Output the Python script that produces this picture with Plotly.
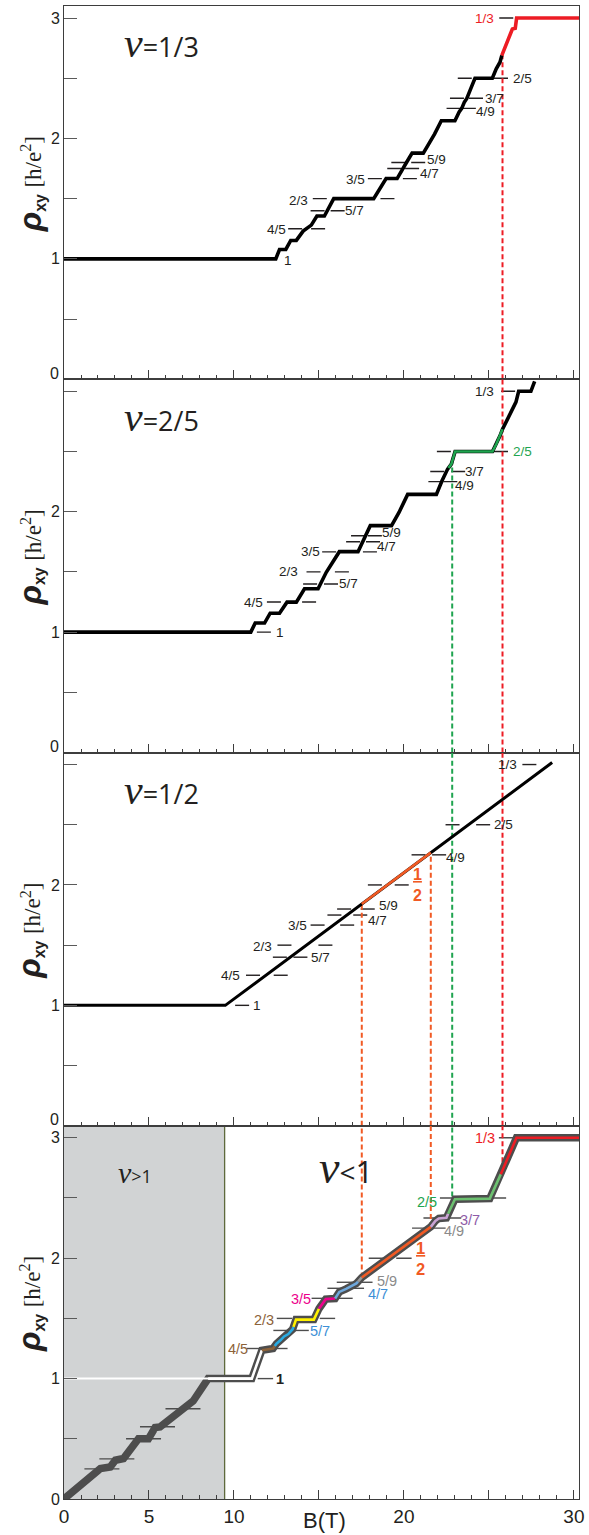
import numpy as np
import plotly.graph_objects as go
from fractions import Fraction

# ------------------------------------------------------------------ data
B_RANGE = [0, 30.3]
RHO_RANGE = [0, 3.1]

# panel 1 : nu = 1/3 composite-fermion model
p1_B = [0.0, 12.46, 12.68, 13.05, 13.34, 13.67, 14.07, 14.55, 14.88, 15.32, 15.87, 18.22,
        18.95, 19.60, 20.15, 20.48, 21.14, 21.80, 22.20, 23.00, 23.25, 23.40, 23.55, 23.70,
        23.95, 24.18, 25.20, 25.43, 25.65, 25.76, 26.24, 26.38, 26.55, 26.63, 30.3]
p1_rho = [1.0, 1.0, 1.078, 1.078, 1.153, 1.153, 1.23, 1.28, 1.356, 1.356, 1.5, 1.5,
          1.667, 1.667, 1.8, 1.878, 1.878, 2.036, 2.147, 2.147, 2.22, 2.25, 2.30, 2.333,
          2.42, 2.5, 2.5, 2.578, 2.633, 2.69, 2.853, 2.909, 2.915, 3.0, 3.0]
p1_highlight = [25.76, 30.3]          # part drawn as the 1/3 state

# panel 2 : nu = 2/5
p2_B = [0.0, 10.99, 11.25, 11.80, 12.13, 12.68, 13.12, 13.67, 14.15, 14.95, 15.43, 16.20,
        17.30, 18.02, 19.27, 19.71, 20.22, 21.91, 22.24, 22.57, 22.79, 23.01, 25.21, 25.43,
        25.65, 25.80, 26.09, 26.30, 26.59, 26.75, 27.47, 27.69]
p2_rho = [1.0, 1.0, 1.075, 1.075, 1.157, 1.157, 1.249, 1.249, 1.36, 1.36, 1.497, 1.668,
          1.668, 1.884, 1.884, 1.994, 2.144, 2.144, 2.257, 2.354, 2.395, 2.5, 2.5, 2.56,
          2.63, 2.685, 2.768, 2.83, 2.91, 3.0, 3.0, 3.083]
p2_highlight = [22.62, 25.80]         # part drawn as the 2/5 state

# panel 3 : nu = 1/2 (classical Hall line)
p3_B = [0.0, 9.49, 28.72]
p3_rho = [1.0, 1.0, 3.017]
p3_highlight = [17.52, 21.58]         # part drawn as the 1/2 state

# panel 4 : measured-like composite trace
p4_B = [0.0, 2.14, 2.72, 3.02, 3.50, 4.38, 4.97, 5.36, 5.65, 7.31, 7.60, 8.48, 11.05,
        11.64, 12.30, 12.50, 12.75, 12.95, 13.20, 13.45, 13.65, 14.70, 15.00, 15.40, 15.95,
        16.20, 16.60, 16.90, 17.20, 17.52, 21.58, 21.85, 22.05, 22.50, 22.75, 23.00, 25.05,
        25.30, 25.80, 26.62, 30.3]
p4_rho = [0.0, 0.253, 0.266, 0.322, 0.336, 0.50, 0.50, 0.593, 0.598, 0.797, 0.814, 1.0, 1.0,
          1.235, 1.25, 1.29, 1.32, 1.35, 1.37, 1.41, 1.49, 1.49, 1.58, 1.66, 1.665,
          1.72, 1.745, 1.77, 1.79, 1.84, 2.26, 2.31, 2.33, 2.335, 2.42, 2.49, 2.495,
          2.57, 2.73, 3.0, 3.0]
p4_seg_start = [8.48, 11.64, 12.40, 13.50, 15.00, 15.95, 17.30, 17.52, 21.58, 22.60, 25.70]
p4_seg_end = [11.64, 12.40, 13.50, 15.00, 15.95, 17.30, 17.52, 21.58, 22.60, 25.70, 30.3]
p4_seg_state = ["1", "4/5", "5/7", "2/3", "3/5", "4/7", "5/9", "1/2", "3/7", "2/5", "1/3"]
nu1_ref_B = [0.0, 11.05]              # white nu = 1 reference line
nu_boundary_B = 9.45                  # nu > 1 / nu < 1 boundary

# filling-factor markers (dashes): (state, B)
dash1 = [("4/5", 13.6), ("4/5", 14.95), ("2/3", 15.05), ("2/3", 19.03), ("5/7", 14.92),
         ("5/7", 16.1), ("3/5", 18.29), ("3/5", 20.35), ("4/7", 19.43), ("4/7", 20.48),
         ("5/9", 19.67), ("5/9", 20.84), ("4/9", 22.92), ("4/9", 23.82), ("3/7", 23.12),
         ("3/7", 24.24), ("2/5", 23.58), ("2/5", 25.71), ("1/3", 26.02)]
dash2 = [("1", 11.76), ("4/5", 12.35), ("4/5", 14.42), ("2/3", 14.68), ("2/3", 16.35),
         ("5/7", 14.48), ("5/7", 15.71), ("3/5", 15.6), ("3/5", 18.0), ("5/9", 17.3),
         ("5/9", 18.29), ("4/7", 17.01), ("4/7", 18.18), ("3/7", 21.96), ("3/7", 23.19),
         ("4/9", 21.85), ("4/9", 22.73), ("2/5", 22.35), ("2/5", 25.71), ("1/3", 26.13)]
dash3 = [("1", 10.48), ("4/5", 11.12), ("4/5", 12.75), ("2/3", 12.97), ("2/3", 15.38),
         ("5/7", 12.7), ("5/7", 13.91), ("3/5", 14.92), ("3/5", 16.66), ("4/7", 15.91),
         ("4/7", 17.43), ("5/9", 16.48), ("5/9", 17.87), ("1/2", 18.29), ("1/2", 19.87),
         ("4/9", 20.86), ("4/9", 22.07), ("2/5", 22.86), ("2/5", 24.66), ("1/3", 27.38)]
dash4 = [("1", 11.85), ("4/5", 11.2), ("4/5", 12.7), ("5/7", 12.77), ("5/7", 13.95),
         ("2/3", 12.97), ("2/3", 15.5), ("3/5", 15.02), ("3/5", 16.53), ("4/7", 15.95),
         ("4/7", 17.2), ("5/9", 16.5), ("5/9", 17.7), ("1/2", 18.38), ("1/2", 20.0),
         ("4/9", 20.93), ("4/9", 22.0), ("3/7", 21.6), ("3/7", 22.92), ("2/5", 22.57),
         ("2/5", 25.56), ("1/3", 26.04)]
dash4_low = [("4", 2.23), ("3", 3.11), ("2", 4.68), ("5/3", 5.5), ("4/3", 7.0)]

# fraction labels: (state, B, rho, side)
lab1 = [("1", 12.84, 0.985, "left"), ("4/5", 13.19, 1.245, "right"), ("2/3", 14.5, 1.485, "right"),
        ("5/7", 16.42, 1.4, "left"), ("3/5", 17.8, 1.66, "right"), ("5/9", 21.25, 1.825, "left"),
        ("4/7", 20.8, 1.71, "left"), ("4/9", 24.1, 2.22, "left"), ("3/7", 24.66, 2.333, "left"),
        ("2/5", 26.3, 2.495, "left"), ("1/3", 25.43, 3.0, "right")]
lab2 = [("1", 12.35, 1.0, "left"), ("4/5", 11.8, 1.25, "right"), ("2/3", 13.89, 1.5, "right"),
        ("5/7", 16.09, 1.4, "left"), ("3/5", 15.16, 1.667, "right"), ("5/9", 18.6, 1.825, "left"),
        ("4/7", 18.29, 1.71, "left"), ("3/7", 23.45, 2.333, "left"), ("4/9", 22.9, 2.22, "left"),
        ("2/5", 26.3, 2.5, "left"), ("1/3", 25.43, 3.0, "right")]
lab3 = [("1", 11.03, 1.0, "left"), ("4/5", 10.48, 1.245, "right"), ("2/3", 12.35, 1.485, "right"),
        ("5/7", 14.44, 1.4, "left"), ("3/5", 14.44, 1.667, "right"), ("4/7", 17.74, 1.705, "left"),
        ("5/9", 18.4, 1.83, "left"), ("4/9", 22.35, 2.225, "left"), ("2/5", 25.21, 2.5, "left"),
        ("1/3", 26.75, 3.0, "right"), ("1/2", 20.81, 2.0, "center")]
lab4 = [("1", 12.38, 1.0, "left"), ("4/5", 10.92, 1.249, "right"), ("2/3", 12.48, 1.49, "right"),
        ("5/7", 14.33, 1.395, "left"), ("3/5", 14.63, 1.66, "right"), ("4/7", 17.74, 1.70, "left"),
        ("5/9", 18.3, 1.81, "left"), ("1/2", 20.97, 2.0, "center"), ("4/9", 22.24, 2.222, "left"),
        ("3/7", 23.21, 2.32, "left"), ("2/5", 22.04, 2.47, "right"), ("1/3", 25.46, 3.0, "right")]

# vertical guide lines: B of the highlighted states
guide_B = {"1/3": 25.8, "2/5": 22.84, "1/2a": 17.52, "1/2b": 21.58}

panel_titles = ["1/3", "2/5", "1/2", None]
x_ticks = [0, 5, 10, 15, 20, 25, 30]
x_ticktext = ["0", "5", "10", "", "20", "", "30"]
y_labeled = [0, 1, 2, 3]
y_half = [0.5, 1.5, 2.5]

# ------------------------------------------------------------------ style
INK = "#231F20"
AX = "#3d3d3d"
C = {"1/3": "#ED1C24", "2/5": "#1FA44F", "1/2": "#F15A24", "3/7": "#8E5BA8",
     "4/9": "#8A8A8A", "5/9": "#8A8A8A", "4/7": "#3D8FD6", "3/5": "#EC008C",
     "5/7": "#3D8FD6", "2/3": "#8C6239", "4/5": "#8C6239", "1": INK}
INNER = {"1": "#FFFFFF", "4/5": "#8C6239", "5/7": "#29ABE2", "2/3": "#FFF200",
         "3/5": "#EC008C", "4/7": "#6FA8DC", "5/9": "#9A9A9A", "1/2": "#F15A24",
         "3/7": "#C9A3D4", "2/5": "#6CC070", "1/3": "#ED1C24"}
FONT = "Liberation Sans, Arial, sans-serif"


def rho_of(state):
    return float(1 / Fraction(state))


def segment(B, rho, b0, b1):
    B = np.asarray(B, float)
    rho = np.asarray(rho, float)
    inside = (B > b0) & (B < b1)
    xs = np.concatenate([[b0], B[inside], [b1]])
    ys = np.interp(xs, B, rho)
    return xs, ys


def ax(k):
    return ("x" if k == 1 else f"x{k}", "y" if k == 1 else f"y{k}")


fig = go.Figure()


def line(k, x, y, color, width, dash=None):
    xa, ya = ax(k)
    fig.add_trace(go.Scatter(x=list(x), y=list(y), mode="lines", xaxis=xa, yaxis=ya,
                             line=dict(color=color, width=width, dash=dash),
                             hoverinfo="skip", showlegend=False))


def dashes(k, items, color=INK, size=10):
    xa, ya = ax(k)
    fig.add_trace(go.Scatter(x=[b for _, b in items], y=[rho_of(s) for s, _ in items],
                             mode="markers", xaxis=xa, yaxis=ya,
                             marker=dict(symbol="line-ew", size=size,
                                         line=dict(color=color, width=1.4)),
                             hoverinfo="skip", showlegend=False))


def guide(k, b, color, y0, y1):
    line(k, [b, b], [y0, y1], color, 2, dash="5px,3px")


annotations = []


def labels(k, items, colored, size):
    xa, ya = ax(k)
    for s, b, r, side in items:
        col = C[s] if (s in colored) else INK
        if s == "1/2":
            txt = "<b><u>1</u></b><br><b>2</b>"
            annotations.append(dict(x=b, y=r, xref=xa, yref=ya, text=txt, showarrow=False,
                                    xanchor="center", yanchor="middle",
                                    font=dict(family=FONT, size=max(size, 14) + 2, color=C["1/2"])))
            continue
        txt = f"<b>{s}</b>" if (k == 4 and s == "1") else s
        annotations.append(dict(x=b, y=r, xref=xa, yref=ya, text=txt, showarrow=False,
                                xanchor=side, yanchor="middle",
                                font=dict(family=FONT, size=size, color=col)))


# ---------------- panel 1
dashes(1, dash1)
guide(1, guide_B["1/3"], C["1/3"], 0, float(np.interp(guide_B["1/3"], p1_B, p1_rho)))
line(1, *segment(p1_B, p1_rho, 0, p1_highlight[0]), "#000000", 3.6)
line(1, *segment(p1_B, p1_rho, *p1_highlight), C["1/3"], 3.6)
labels(1, lab1, {"1/3"}, 13.5)

# ---------------- panel 2
dashes(2, dash2)
guide(2, guide_B["1/3"], C["1/3"], RHO_RANGE[0], RHO_RANGE[1])
guide(2, guide_B["2/5"], C["2/5"], 0, float(np.interp(guide_B["2/5"], p2_B, p2_rho)))
line(2, p2_B, p2_rho, "#000000", 3.6)
line(2, *segment(p2_B, p2_rho, *p2_highlight), C["2/5"], 2.6)
labels(2, lab2, {"2/5"}, 13.5)

# ---------------- panel 3
dashes(3, dash3)
for key, col in (("1/3", C["1/3"]), ("2/5", C["2/5"])):
    guide(3, guide_B[key], col, RHO_RANGE[0], RHO_RANGE[1])
for key in ("1/2a", "1/2b"):
    guide(3, guide_B[key], C["1/2"], 0, float(np.interp(guide_B[key], p3_B, p3_rho)))
line(3, p3_B, p3_rho, "#000000", 3)
line(3, *segment(p3_B, p3_rho, *p3_highlight), C["1/2"], 2.6)
labels(3, lab3, {"1/2"}, 13.5)

# ---------------- panel 4
dashes(4, dash4, color="#4d4d4d", size=11)
dashes(4, dash4_low, color="#4d4d4d", size=25)
for key, col in (("1/3", C["1/3"]), ("2/5", C["2/5"]), ("1/2a", C["1/2"]), ("1/2b", C["1/2"])):
    guide(4, guide_B[key], col, float(np.interp(guide_B[key], p4_B, p4_rho)), RHO_RANGE[1])
line(4, p4_B, p4_rho, "#4D4D4D", 7.5)
line(4, nu1_ref_B, [1.0, 1.0], "#FFFFFF", 2)
for b0, b1, s in zip(p4_seg_start, p4_seg_end, p4_seg_state):
    line(4, *segment(p4_B, p4_rho, b0, b1), INNER[s], 2.6)
labels(4, lab4, set(C.keys()), 14.5)

# nu labels
nu_span = '<span style="font-family:Liberation Serif;font-size:42px"><i>ν</i></span>'
for k, t in enumerate(panel_titles, start=1):
    if t is None:
        continue
    xa, ya = ax(k)
    annotations.append(dict(x=3.4, y=2.79, xref=xa, yref=ya, text=f"{nu_span}={t}",
                            showarrow=False, xanchor="left", yanchor="middle",
                            font=dict(family="Open Sans, sans-serif", size=27, color=INK)))
annotations.append(dict(x=3.05, y=2.71, xref="x4", yref="y4",
                        text='<span style="font-family:Liberation Serif;font-size:30px"><i>ν</i></span>>1',
                        showarrow=False, xanchor="left", yanchor="middle",
                        font=dict(family="Open Sans, sans-serif", size=18, color=INK)))
annotations.append(dict(x=14.9, y=2.75, xref="x4", yref="y4",
                        text='<span style="font-family:Liberation Serif;font-size:46px"><i>ν</i></span><span style="font-size:28px"><</span>1',
                        showarrow=False, xanchor="left", yanchor="middle",
                        font=dict(family="Open Sans, sans-serif", size=31, color=INK)))

# y titles
ytitle = ('<span style="font-size:32px"><b><i>ρ</i></b></span><sub><b>xy</b></sub> '
          '<span style="font-family:Liberation Serif">[h/e<sup>2</sup>]</span>')
for k in range(1, 5):
    annotations.append(dict(x=-0.066, y=1.62, xref="paper", yref=ax(k)[1], text=ytitle,
                            textangle=-90, showarrow=False, xanchor="center", yanchor="middle",
                            font=dict(family=FONT, size=23, color=INK)))
    if k < 4:
        # the "0" of the upper panels sits a little above its tick
        annotations.append(dict(x=0, y=0, xref="paper", yref=ax(k)[1], text="0",
                                xshift=-3, yshift=6, showarrow=False, xanchor="right",
                                yanchor="middle", font=dict(family=FONT, size=16, color=INK)))
# x title
annotations.append(dict(x=15.3, y=-0.0145, xref="x4", yref="paper", text="B(T)",
                        showarrow=False, xanchor="center", yanchor="middle",
                        font=dict(family=FONT, size=22, color=INK)))

# ------------------------------------------------------------------ layout
layout = dict(width=589, height=1535, margin=dict(l=64, r=8, t=5, b=36),
              paper_bgcolor="white", plot_bgcolor="white", showlegend=False,
              annotations=annotations)
minor_x = [v for v in range(0, 31) if v % 5]
for k in range(1, 5):
    sfx = "" if k == 1 else str(k)
    xa, ya = ax(k)
    layout["xaxis" + sfx] = dict(
        domain=[0, 1], range=B_RANGE, anchor=ya, showline=True, mirror=True,
        linecolor=AX, linewidth=1, showgrid=False, zeroline=False,
        ticks="inside", tickmode="array", tickvals=x_ticks, ticktext=x_ticktext,
        ticklen=9, tickwidth=1.2, tickcolor=AX, showticklabels=(k == 4),
        tickfont=dict(family=FONT, size=19, color=INK),
        minor=dict(ticks="inside", tickmode="array", tickvals=minor_x, ticklen=4,
                   tickwidth=1, tickcolor=AX, showgrid=False))
    # labelled ticks on the y axis; unlabelled ones are drawn as equal-length minor ticks
    if k == 4:
        major = y_labeled
    elif k == 1:
        major = [v for v in y_labeled if v != 0]
    else:
        major = [v for v in y_labeled if v not in (0, 3)]
    unlabelled = sorted(y_half + [v for v in y_labeled if v not in major])
    layout["yaxis" + sfx] = dict(
        domain=[1 - k / 4, 1 - (k - 1) / 4], range=RHO_RANGE, anchor=xa, showline=True,
        mirror=True, linecolor=AX, linewidth=1, showgrid=False, zeroline=False,
        ticks="inside", tickmode="array", tickvals=major, ticktext=[str(v) for v in major],
        ticklen=13, tickwidth=1.2, tickcolor="#5a5a5a",
        tickfont=dict(family=FONT, size=16, color=INK),
        minor=dict(ticks="inside", tickmode="array", tickvals=unlabelled, ticklen=13,
                   tickwidth=1.2, tickcolor="#5a5a5a", showgrid=False))

layout["shapes"] = [
    dict(type="rect", xref="x4", yref="y4 domain", x0=0, x1=nu_boundary_B, y0=0, y1=1,
         fillcolor="#D1D3D4", line=dict(width=0), layer="below"),
    dict(type="line", xref="x4", yref="y4 domain", x0=nu_boundary_B, x1=nu_boundary_B,
         y0=0, y1=1, line=dict(color="#5E6A3C", width=1.3), layer="below"),
]
fig.update_layout(**layout)
fig.write_html("out.html")
